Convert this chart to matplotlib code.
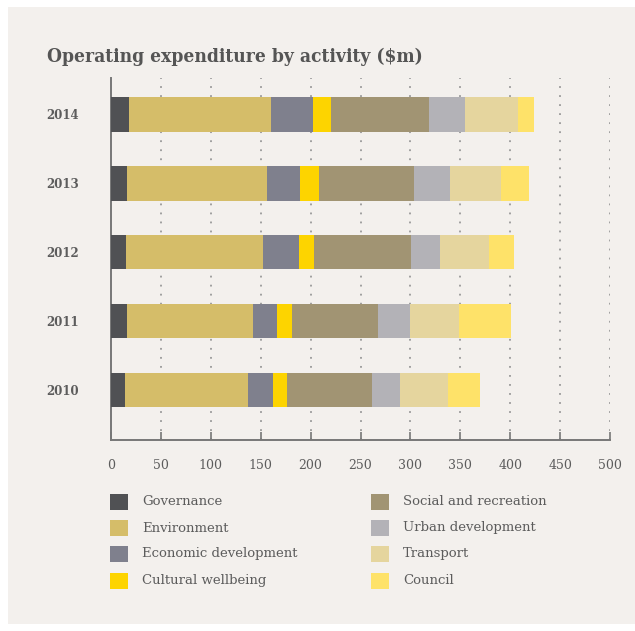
import matplotlib
matplotlib.use("Agg")
import matplotlib.pyplot as plt
from matplotlib.patches import Rectangle
import numpy as np

# Operating expenditure by activity, $m
years = ["2010", "2011", "2012", "2013", "2014"]
activities = ["Governance", "Environment", "Economic development", "Cultural wellbeing",
              "Social and recreation", "Urban development", "Transport", "Council"]
governance = [14, 16, 15, 16, 18]
environment = [123, 126, 137, 140, 142]
economic = [25, 24, 36, 33, 42]
cultural = [14, 15, 15, 19, 18]
social = [86, 87, 98, 96, 99]
urban = [28, 32, 29, 36, 36]
transport = [48, 49, 49, 51, 53]
council = [32, 52, 25, 28, 16]
xticks = [0, 50, 100, 150, 200, 250, 300, 350, 400, 450, 500]

series = [governance, environment, economic, cultural, social, urban, transport, council]
colors = ["#505154", "#d5bd69", "#7f808d", "#fdd400",
          "#a19473", "#b3b2b7", "#e5d59e", "#fee269"]

txt = "#5c5c5c"
serif = "DejaVu Serif"

fig = plt.figure(figsize=(6.35, 6.31), dpi=100)
fig.patch.set_facecolor("white")
# light panel behind everything
fig.add_artist(Rectangle((8 / 635, 7 / 631), 1, 1 - 14 / 631, transform=fig.transFigure,
                         facecolor="#f3f0ed", edgecolor="none", zorder=-10))

ax = fig.add_axes([111 / 635, 1 - 440 / 631, 499 / 635, 362 / 631])
ax.set_facecolor("none")

y = np.arange(len(years))
left = np.zeros(len(years))
for vals, c, name in zip(series, colors, activities):
    ax.barh(y, vals, left=left, height=0.5, color=c, label=name, zorder=3)
    left += np.array(vals)

ax.set_xlim(0, 500)
ax.set_ylim(-0.73, 4.53)

# dotted guides
for xv in xticks[1:]:
    ax.axvline(xv, color="#999999", lw=1.3, ls=(0, (1, 4)), zorder=1)

for s in ["top", "right"]:
    ax.spines[s].set_visible(False)
for s in ["left", "bottom"]:
    ax.spines[s].set_color("#777777")
    ax.spines[s].set_linewidth(1.4)

ax.set_xticks(xticks)
ax.set_xticklabels([str(v) for v in xticks], fontfamily=serif, fontsize=9, color=txt)
ax.tick_params(axis="x", direction="in", length=6, width=1.2, color="#777777", pad=14)
ax.set_yticks(y)
ax.set_yticklabels(years, fontfamily=serif, fontsize=8.5, color=txt, fontweight="bold")
ax.tick_params(axis="y", length=0, pad=23)

fig.text(47 / 635, 1 - 62 / 631, "Operating expenditure by activity ($m)",
         fontfamily=serif, fontweight="bold", fontstretch="condensed", fontsize=13.8,
         color="#555555", ha="left", va="baseline")

# legend in two columns
row_y = [501.7, 528, 554, 580.7]
for i, (name, c) in enumerate(zip(activities, colors)):
    col = i // 4
    row = i % 4
    sx = 110 if col == 0 else 371
    tx = 142 if col == 0 else 403
    cy = row_y[row]
    fig.add_artist(Rectangle((sx / 635, 1 - (cy + 8) / 631), 18 / 635, 16 / 631,
                             transform=fig.transFigure, facecolor=c, edgecolor="none"))
    fig.text(tx / 635, 1 - cy / 631, name, fontfamily=serif, fontsize=9.5, color=txt,
             ha="left", va="center")

fig.savefig("out.png", dpi=100, facecolor=fig.get_facecolor())
